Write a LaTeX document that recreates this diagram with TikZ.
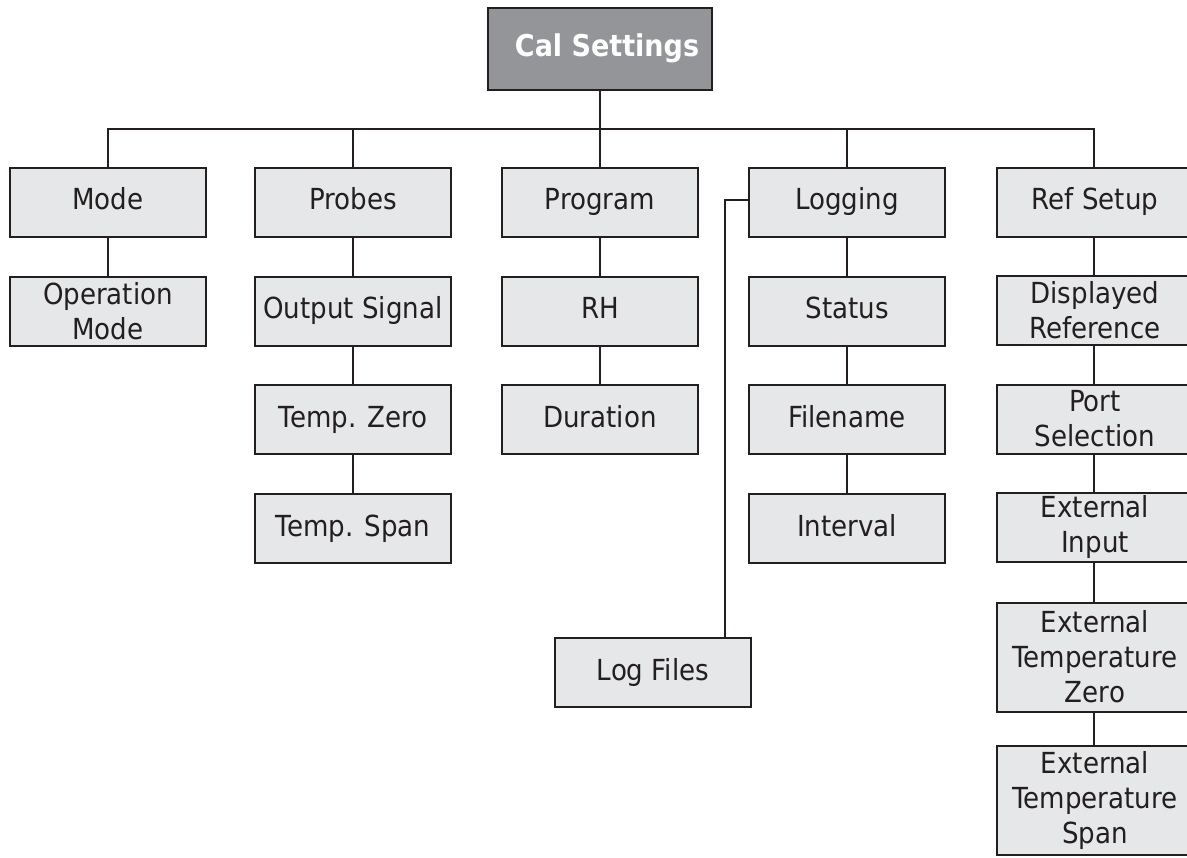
\documentclass[tikz,border=0pt]{standalone}
\usepackage{fontspec}
\setmainfont{DejaVu Sans}[FakeStretch=0.9]
\definecolor{boxgray}{HTML}{E6E7E8}
\definecolor{topgray}{HTML}{939598}
\definecolor{edge}{HTML}{231F20}
\begin{document}
\begin{tikzpicture}[x=0.5pt, y=-0.5pt,
        wrapbox/.style={draw=edge, fill=boxgray, line width=1pt, minimum width=98pt, minimum height=34.5pt,
            inner sep=0pt, align=center, font=\fontsize{14.5}{17.5}\selectfont, text=edge},
        box/.style={wrapbox, text height=10.5pt, text depth=3pt},
        tallbox/.style={wrapbox, minimum height=54.5pt},
        topbox/.style={box, fill=topgray, minimum width=112pt, minimum height=41pt,
            font=\fontsize{15}{18}\selectfont\bfseries, text=white},
        link/.style={draw=edge, line width=0.75pt}]
        \useasboundingbox (0,0) rectangle (1187,857);

        % root
        \node[topbox] (cal) at (600,48.5) {\hspace*{7pt}Cal Settings};
        \coordinate (bus) at (600,129);

        % first row
        \node[box] (mode) at (108,202) {Mode};
        \node[box] (probes) at (353,202) {Probes};
        \node[box] (program) at (600,202) {Program};
        \node[box] (logging) at (847,202) {Logging};
        \node[box] (refsetup) at (1095,202) {Ref Setup};

        % Mode
        \node[wrapbox] (opmode) at (108,311) {Operation\\Mode};

        % Probes
        \node[box] (outsig) at (353,311) {Output Signal};
        \node[box] (tzero) at (353,419.5) {Temp. Zero};
        \node[box] (tspan) at (353,528.5) {Temp. Span};

        % Program
        \node[box] (rh) at (600,311) {RH};
        \node[box] (duration) at (600,419.5) {Duration};

        % Logging
        \node[box] (status) at (847,311) {Status};
        \node[box] (filename) at (847,419.5) {Filename};
        \node[box] (interval) at (847,528.5) {Interval};
        \node[box] (logfiles) at (653,672.5) {Log Files};
        \coordinate (lfturn) at (725,200);

        % Ref Setup
        \node[wrapbox] (dispref) at (1095,310) {Displayed\\Reference};
        \node[wrapbox] (portsel) at (1095,419) {Port\\Selection};
        \node[wrapbox] (extin) at (1095,527) {External\\Input};
        \node[tallbox] (exttzero) at (1095,657) {External\\Temperature\\Zero};
        \node[tallbox] (exttspan) at (1095,800) {External\\Temperature\\Span};

        % bus
        \draw[link] (cal) -- (bus);
        \draw[link] (mode) |- (bus) -| (refsetup.north -| 1094,0);
        \draw[link] (probes) -- (probes |- bus);
        \draw[link] (program) -- (bus);
        \draw[link] (logging) -- (logging |- bus);

        % columns
        \draw[link] (mode) -- (opmode);
        \draw[link] (probes) -- (outsig) -- (tzero) -- (tspan);
        \draw[link] (program) -- (rh) -- (duration);
        \draw[link] (logging) -- (status) -- (filename) -- (interval);
        \draw[link] (logging.west |- lfturn) -- (lfturn) -- (lfturn |- logfiles.north);
        \foreach \a/\b in {refsetup/dispref, dispref/portsel, portsel/extin, extin/exttzero, exttzero/exttspan}
            \draw[link] (\a.south -| 1094,0) -- (\b.north -| 1094,0);
    \end{tikzpicture}
\end{document}
